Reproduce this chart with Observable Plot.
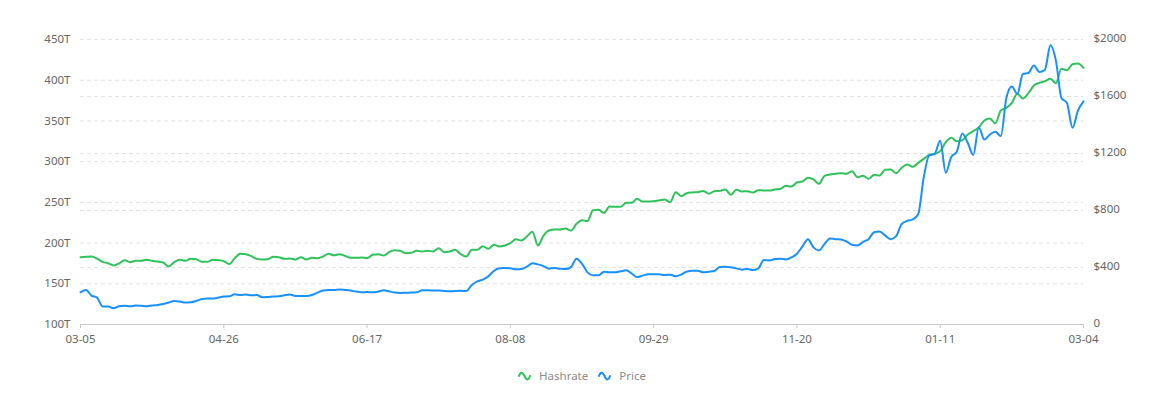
<!DOCTYPE html>
<html>
<head>
<meta charset="utf-8">
<script src="https://cdn.jsdelivr.net/npm/d3@7"></script>
<script src="https://cdn.jsdelivr.net/npm/@observablehq/plot@0.6"></script>
<style>
  body { margin: 0; background: #fff; font-family: "Noto Sans", "Open Sans", sans-serif; }
  #legend { display: flex; justify-content: center; align-items: center; margin-top: 18px;
            font-size: 11.5px; line-height: 16px; color: #8c8c8c; }
  .item { display: flex; align-items: center; margin: 0 5px; }
  .item svg { margin-right: 8px; }
</style>
</head>
<body>
<div id="chart"></div>
<div id="legend"></div>
<script>
// ---- data (one value every 2 days, starting 2020-03-05) ----
const startDate = "2020-03-05";
const stepDays = 2;

const hashrate = [
  182.7, 183.1, 183.5, 181.0, 177.0, 175.3, 172.5, 174.9, 179.0, 176.5,
  178.2, 178.2, 179.4, 178.2, 177.4, 176.1, 171.2, 176.5, 179.4, 178.2,
  180.6, 180.2, 177.0, 177.0, 179.4, 179.0, 177.8, 174.1, 181.5, 186.8,
  186.4, 183.9, 180.6, 179.8, 180.2, 183.1, 182.7, 180.6, 181.0, 179.8,
  182.7, 179.8, 181.9, 181.5, 183.5, 187.0, 185.0, 186.4, 184.3, 181.9,
  181.9, 182.3, 181.5, 185.6, 186.4, 184.7, 188.8, 191.3, 190.5, 187.6,
  188.0, 190.5, 189.7, 190.5, 189.7, 193.7, 188.8, 189.7, 191.7, 186.3,
  183.5, 191.7, 191.7, 196.2, 192.9, 197.8, 195.8, 197.0, 199.9, 204.8,
  203.1, 208.1, 214.0, 197.0, 208.9, 215.4, 216.7, 216.7, 217.9, 215.4,
  223.6, 228.0, 227.0, 240.4, 240.8, 237.1, 244.9, 244.5, 244.5, 249.4,
  249.4, 254.3, 251.0, 251.0, 251.5, 252.3, 253.5, 250.2, 262.5, 257.6,
  261.3, 262.1, 262.5, 264.1, 260.5, 263.7, 264.1, 265.8, 259.2, 265.4,
  263.3, 263.7, 262.1, 265.0, 264.6, 264.6, 265.8, 266.6, 270.3, 269.5,
  274.4, 275.6, 280.1, 278.1, 272.8, 282.6, 284.2, 285.0, 285.8, 285.0,
  288.3, 280.9, 282.6, 278.9, 283.8, 283.0, 289.9, 290.3, 285.8, 292.4,
  296.5, 293.6, 298.5, 303.4, 308.3, 309.6, 312.9, 323.9, 329.2, 325.0,
  326.3, 333.3, 337.4, 341.9, 350.5, 352.9, 347.2, 362.8, 366.1, 372.2,
  383.3, 377.5, 384.1, 393.5, 396.8, 398.8, 401.7, 396.4, 414.0, 412.3,
  419.7, 420.5, 415.2
];

const price = [
  226, 242, 203, 189, 126, 126, 114, 128, 131, 128,
  133, 131, 128, 133, 137, 144, 154, 165, 161, 154,
  156, 165, 179, 182, 182, 189, 196, 198, 212, 207,
  210, 205, 207, 191, 193, 196, 198, 205, 210, 200,
  200, 200, 207, 224, 238, 242, 242, 245, 242, 238,
  231, 226, 228, 226, 231, 240, 233, 224, 221, 223,
  224, 226, 240, 240, 238, 238, 235, 233, 235, 236,
  235, 277, 303, 315, 338, 375, 394, 396, 394, 387,
  389, 406, 429, 422, 410, 392, 396, 392, 389, 403,
  462, 426, 366, 345, 345, 371, 366, 366, 373, 380,
  359, 333, 343, 352, 352, 352, 347, 350, 338, 350,
  371, 378, 378, 366, 370, 375, 403, 406, 401, 394,
  385, 389, 382, 394, 452, 450, 459, 462, 457, 471,
  497, 548, 599, 541, 520, 564, 604, 599, 597, 583,
  559, 555, 580, 599, 648, 653, 625, 599, 620, 705,
  727, 737, 774, 1030, 1186, 1198, 1290, 1065, 1175, 1212,
  1340, 1275, 1190, 1384, 1298, 1333, 1352, 1322, 1590, 1671,
  1618, 1758, 1765, 1818, 1772, 1788, 1960, 1850, 1590, 1555,
  1380, 1501, 1566
];

const xTickDates = ["2020-03-05", "2020-04-26", "2020-06-17", "2020-08-08",
                    "2020-09-29", "2020-11-20", "2021-01-11", "2021-03-04"];
const hashTicks = [100, 150, 200, 250, 300, 350, 400, 450];
const priceTicks = [0, 400, 800, 1200, 1600, 2000];
const seriesNames = ["Hashrate", "Price"];
const seriesColors = ["#2FC25B", "#1890FF"];

// ---- build ----
const parse = d3.utcParse("%Y-%m-%d");
const start = parse(startDate);
const rows = hashrate.map((h, i) => ({
  date: d3.utcDay.offset(start, i * stepDays), h, p: price[i]
}));
const hMin = hashTicks[0], hMax = hashTicks[hashTicks.length - 1];
const pMax = priceTicks[priceTicks.length - 1];
const p2h = p => hMin + p * (hMax - hMin) / pMax;
const h2p = v => (v - hMin) * pMax / (hMax - hMin);
const xTicks = xTickDates.map(parse);

const grid = { stroke: "#e3e3e3", strokeOpacity: 1, strokeDasharray: "4,3" };
const font = '"Noto Sans", "Open Sans", sans-serif';

const chart = Plot.plot({
  width: 1164,
  height: 350,
  marginLeft: 80,
  marginRight: 81,
  marginTop: 39,
  marginBottom: 26,
  style: { fontFamily: font, fontSize: "11.5px", background: "#fff", color: "#666" },
  x: { type: "utc", domain: [xTicks[0], xTicks[xTicks.length - 1]], label: null },
  y: { domain: [hMin, hMax], label: null },
  marks: [
    Plot.gridY(hashTicks, grid),
    Plot.gridY(priceTicks.map(p2h), grid),
    Plot.ruleY([hMin], { stroke: "#c8c8c8" }),
    Plot.axisX(xTicks, { tickFormat: d3.utcFormat("%m-%d"), tickSize: 4, tickPadding: 6,
                         stroke: "#c8c8c8", fill: "#666", label: null }),
    Plot.axisY(hashTicks, { anchor: "left", tickSize: 0, tickPadding: 10,
                            tickFormat: d => d + "T", fill: "#666", label: null }),
    Plot.axisY(priceTicks.map(p2h), { anchor: "right", tickSize: 0, tickPadding: 10, dy: -1,
                            tickFormat: v => { const p = Math.round(h2p(v)); return p === 0 ? "0" : "$" + p; },
                            fill: "#666", label: null }),
    Plot.line(rows, { x: "date", y: "h", stroke: seriesColors[0], strokeWidth: 2, curve: "monotone-x" }),
    Plot.line(rows, { x: "date", y: d => p2h(d.p), stroke: seriesColors[1], strokeWidth: 2, curve: "monotone-x" })
  ]
});
document.getElementById("chart").appendChild(chart);

// ---- legend ----
const legend = d3.select("#legend");
seriesNames.forEach((name, i) => {
  const item = legend.append("div").attr("class", "item");
  const svg = item.append("svg").attr("width", 13).attr("height", 10);
  svg.append("path")
    .attr("d", "M1,5 C2.5,0.5 4.5,0.5 6.5,5 C8.5,9.5 10.5,9.5 12,5")
    .attr("fill", "none").attr("stroke", seriesColors[i]).attr("stroke-width", 2).attr("stroke-linecap", "round");
  item.append("span").text(name);
});
</script>
</body>
</html>
